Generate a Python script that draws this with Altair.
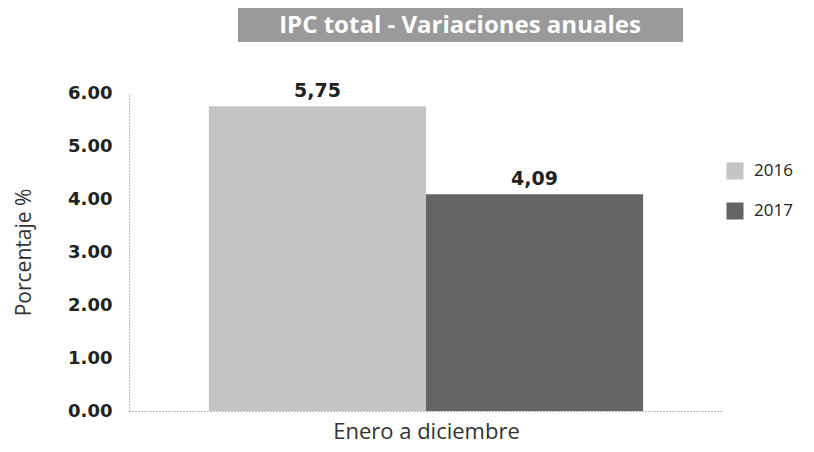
import altair as alt
import pandas as pd

categories = ["Enero a diciembre", "Enero a diciembre"]
years = ["2016", "2017"]
values = [5.75, 4.09]
value_labels = ["5,75", "4,09"]
title_text = "IPC total - Variaciones anuales"

df = pd.DataFrame({"periodo": categories, "anio": years, "valor": values, "etiqueta": value_labels})
tdf = pd.DataFrame({"t": [title_text]})

FONT = "Open Sans"
NUMFONT = "DejaVu Sans"

base = alt.Chart(df).encode(
    x=alt.X("periodo:N", title="Enero a diciembre",
            scale=alt.Scale(paddingInner=0, paddingOuter=0.184),
            axis=alt.Axis(labels=False, ticks=False, domainDash=[1, 2], domainColor="#777",
                          titleFontSize=22, titleFontWeight="normal", titleColor="#333",
                          titleFont=FONT, titlePadding=10)),
    xOffset=alt.XOffset("anio:N", scale=alt.Scale(paddingInner=0, paddingOuter=0)),
)

bars = base.mark_bar().encode(
    y=alt.Y("valor:Q", title="Porcentaje %",
            scale=alt.Scale(domain=[0, 6]),
            axis=alt.Axis(values=[0, 1, 2, 3, 4, 5, 6], format=".2f", grid=False, ticks=False,
                          domainDash=[1, 2], domainColor="#777",
                          labelFontSize=18, labelFontWeight="bold", labelColor="#222",
                          labelFont=NUMFONT, labelPadding=17,
                          titleFontSize=21, titleFontWeight="normal", titleColor="#333",
                          titleFont=FONT, titlePadding=33)),
    color=alt.Color("anio:N", title=None,
                    scale=alt.Scale(domain=years, range=["#c4c4c4", "#646464"]),
                    legend=alt.Legend(orient="none", legendX=597, legendY=69,
                                      symbolType="square", symbolSize=290, symbolStrokeWidth=0,
                                      labelFontSize=17, labelColor="#222", labelFont=FONT,
                                      rowPadding=22, labelOffset=10)),
)

labels = base.mark_text(dy=-15, fontSize=19, fontWeight="bold", color="#222", font=NUMFONT).encode(
    y=alt.Y("valor:Q"),
    text="etiqueta:N",
)

title_box = alt.Chart(tdf).mark_rect(color="#9a9a9a").encode(
    x=alt.value(109), x2=alt.value(554), y=alt.value(-85), y2=alt.value(-51)
)
title_txt = alt.Chart(tdf).mark_text(color="white", fontSize=24, fontWeight="bold", font=FONT,
                                     baseline="middle", align="center").encode(
    x=alt.value(331), y=alt.value(-67), text="t:N"
)

chart = alt.layer(bars, labels, title_box, title_txt).properties(
    width=594, height=318,
    background="white",
    autosize=alt.AutoSizeParams(type="none"),
    padding={"left": 121, "top": 85, "right": 83, "bottom": 33},
).configure_view(stroke=None)

chart.save("out.html", embed_options={"renderer": "svg", "actions": False})
